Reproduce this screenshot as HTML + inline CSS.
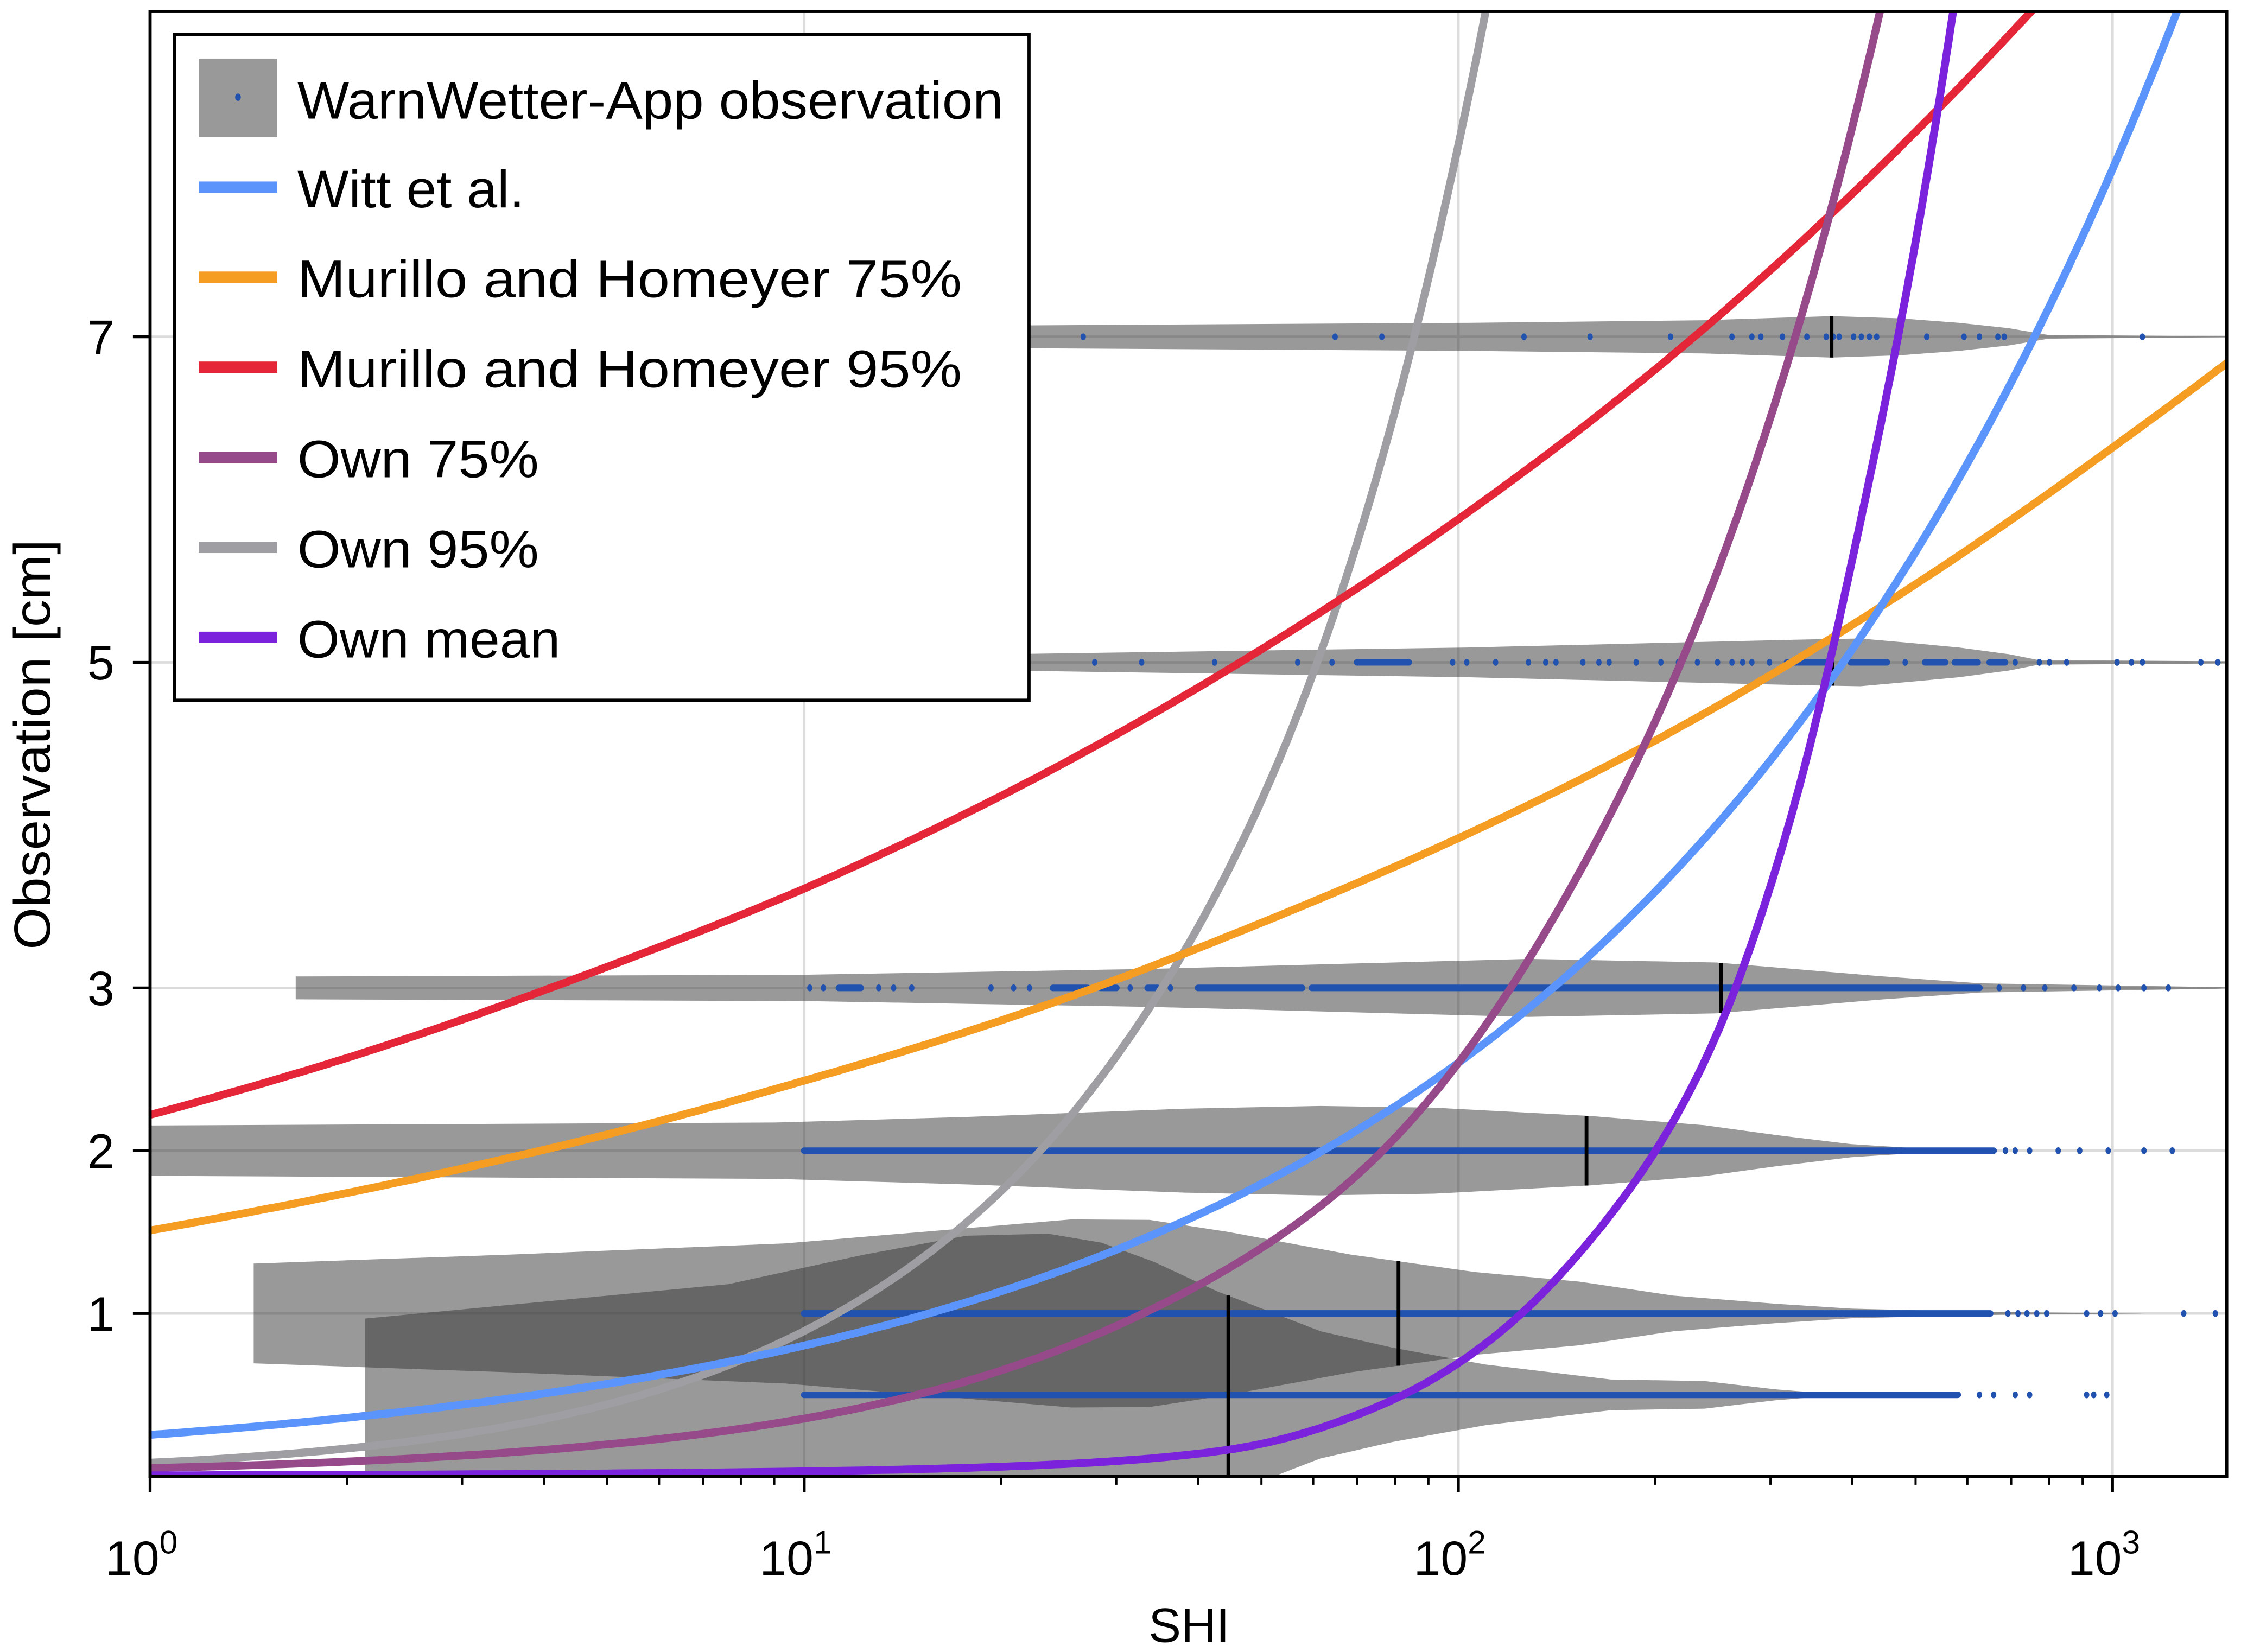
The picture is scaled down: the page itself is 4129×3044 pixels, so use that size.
<!DOCTYPE html>
<html><head><meta charset="utf-8"><style>
html,body{margin:0;padding:0;background:#fff;}
svg{display:block;}
text{font-family:"Liberation Sans",Arial,sans-serif;fill:#000;}
</style></head><body>
<svg id="chart" xmlns="http://www.w3.org/2000/svg" width="4129" height="3044" viewBox="0 0 1568 1156" preserveAspectRatio="none">
<defs><clipPath id="plotclip"><rect x="105" y="8" width="1453" height="1025"/></clipPath></defs>
<rect x="0" y="0" width="1568" height="1156" fill="#fff"/>
<g id="grid"></g>
<g id="plot" clip-path="url(#plotclip)">
<g id="violins"></g>
<g id="dots"></g>
<g id="medians"></g>
<g id="curves"></g>
</g>
<rect x="105" y="8" width="1453" height="1025" fill="none" stroke="#000" stroke-width="2.2"/>
<g id="axes"></g>
<text x="832" y="1149" font-size="34" text-anchor="middle">SHI</text>
<text transform="translate(35,521) rotate(-90)" font-size="36" text-anchor="middle" textLength="287" lengthAdjust="spacingAndGlyphs">Observation [cm]</text>
<g>
<rect x="122" y="24" width="598" height="466" fill="#fff" stroke="#000" stroke-width="2.2"/>
<g>
<rect x="139" y="41" width="55" height="55" fill="#999"/>
<ellipse cx="166.5" cy="68" rx="2" ry="2.6" fill="#2152b0"/>
<text x="208" y="83" font-size="37" textLength="494" lengthAdjust="spacingAndGlyphs">WarnWetter-App observation</text></g>
<g><rect x="139" y="127" width="55" height="8" fill="#5b95fb"/><text x="208" y="145" font-size="37" textLength="159" lengthAdjust="spacingAndGlyphs">Witt et al.</text></g>
<g><rect x="139" y="190" width="55" height="8" fill="#f59c22"/><text x="208" y="208" font-size="37" textLength="465" lengthAdjust="spacingAndGlyphs">Murillo and Homeyer  75%</text></g>
<g><rect x="139" y="253" width="55" height="8" fill="#e42638"/><text x="208" y="271" font-size="37" textLength="465" lengthAdjust="spacingAndGlyphs">Murillo and Homeyer  95%</text></g>
<g><rect x="139" y="316" width="55" height="8" fill="#964a8a"/><text x="208" y="334" font-size="37" textLength="169" lengthAdjust="spacingAndGlyphs">Own 75%</text></g>
<g><rect x="139" y="379" width="55" height="8" fill="#9e9ea3"/><text x="208" y="397" font-size="37" textLength="169" lengthAdjust="spacingAndGlyphs">Own 95%</text></g>
<g><rect x="139" y="442" width="55" height="8" fill="#7b22dd"/><text x="208" y="460" font-size="37" textLength="184" lengthAdjust="spacingAndGlyphs">Own mean</text></g>
</g>
</svg>
<script>
// ---- data ----
const yTicks = [1, 2, 3, 5, 7];
const xDecades = [0, 1, 2, 3];
const xTickLabels = ["0", "1", "2", "3"];

const wittShi = [1, 2, 5, 10, 20, 50, 100, 200, 400, 700, 1000, 1300];
const wittObs = [0.254, 0.359, 0.568, 0.803, 1.136, 1.796, 2.54, 3.592, 5.08, 6.72, 8.03, 9.16];
const mh75Shi = [1, 2, 5, 10, 20, 50, 100, 200, 500, 1000, 1600];
const mh75Obs = [1.51, 1.74, 2.10, 2.43, 2.80, 3.40, 3.92, 4.52, 5.48, 6.32, 6.93];
const mh95Shi = [1, 2, 5, 10, 20, 50, 100, 200, 500, 800];
const mh95Obs = [2.22, 2.57, 3.13, 3.61, 4.18, 5.08, 5.88, 6.80, 8.26, 9.12];
const ownMeanShi = [1, 10, 25, 44, 70, 145.5, 243, 325, 405, 526, 600];
const ownMeanObs = [0.005, 0.03, 0.075, 0.16, 0.377, 1.27, 2.63, 4.1, 5.73, 8.10, 9.6];
const own75Shi = [1, 10.2, 31.8, 70, 145.5, 258, 447, 500];
const own75Obs = [0.05, 0.36, 0.97, 1.85, 3.55, 5.73, 9.1, 10.0];
const own95Shi = [1, 9.53, 27.8, 60.7, 111, 130];
const own95Obs = [0.083, 0.85, 2.40, 4.99, 9.07, 10.6];

const violinCenters = [0.5, 1, 2, 3, 5, 7];
const violinShi = [
  [2.13, 7.66, 12.3, 17.7, 23.6, 28.5, 34.3, 42.7, 61.5, 79.4, 110, 171, 238, 305, 389],
  [1.44, 3.55, 9.35, 25.6, 33.7, 44.3, 68.5, 106, 153, 213, 305, 398, 631, 1122],
  [0.79, 9.02, 17.7, 38.2, 61.5, 91.8, 159, 238, 305, 398, 501, 617],
  [1.67, 10.0, 33.8, 128, 248, 441, 628, 1445, 1496],
  [20, 103, 346, 412, 491, 583, 695, 771, 1585],
  [22.1, 103, 237, 372, 474, 583, 695, 798, 1496]
];
const violinHalf = [
  [0.468, 0.68, 0.86, 0.978, 0.99, 0.935, 0.816, 0.638, 0.391, 0.289, 0.187, 0.094, 0.085, 0.034, 0],
  [0.306, 0.362, 0.430, 0.578, 0.575, 0.502, 0.362, 0.255, 0.196, 0.11, 0.06, 0.03, 0.01, 0],
  [0.153, 0.173, 0.207, 0.258, 0.275, 0.264, 0.213, 0.156, 0.097, 0.04, 0.015, 0],
  [0.07, 0.081, 0.117, 0.178, 0.156, 0.072, 0.028, 0.005, 0.003],
  [0.05, 0.091, 0.141, 0.147, 0.119, 0.091, 0.05, 0.014, 0.006],
  [0.07, 0.086, 0.102, 0.127, 0.113, 0.086, 0.053, 0.011, 0.003]
];
const medianShi = [44.5, 81, 157, 252, 373, 372];

const dots05 = [626, 658, 710, 747, 913, 936, 980];
const dense05 = [[10, 580]];
const dots1 = [692, 717, 740, 766, 793, 913, 959, 1009, 1285, 1436];
const dense1 = [[10, 650]];
const dots2 = [686, 710, 747, 826, 891, 985, 1117, 1234];
const dense2 = [[10, 658]];
const dots3 = [10.2, 10.7, 13.0, 13.7, 14.6, 19.3, 20.9, 22.1, 31.5, 36.3, 671, 731, 788, 873, 955, 1020, 1117, 1217];
const dense3 = [[11.3, 12.2], [24, 27.1], [28.4, 30], [33.5, 34.7], [40, 57.7], [59.7, 626]];
const dots5 = [27.8, 32.8, 42.4, 56.8, 64.1, 98, 103, 114, 128, 136, 141, 155, 164, 170, 187, 204, 217, 232, 249, 262, 272, 281, 299, 482, 710, 773, 801, 851, 1016, 1069, 1111, 1365, 1449];
const dense5 = [[70, 84], [318, 371], [398, 452], [517, 555], [574, 622], [649, 685]];
const dots7 = [26.7, 64.8, 76.4, 126, 159, 211, 262, 281, 290, 313, 341, 365, 374, 382, 402, 413, 425, 436, 520, 593, 626, 668, 683, 1111];

// ---- axes ----
const NS = "http://www.w3.org/2000/svg";
const PL = 105, PR = 1558, PT = 8, PB = 1033, DEC = 457.7, UNIT = 113.9;
function X(s) { return PL + Math.log10(s) * DEC; }
function Y(v) { return PB - v * UNIT; }
function mk(tag, attrs, parent) {
  const e = document.createElementNS(NS, tag);
  for (const k in attrs) e.setAttribute(k, attrs[k]);
  parent.appendChild(e);
  return e;
}
const grid = document.getElementById('grid');
const axes = document.getElementById('axes');
xDecades.forEach((d, i) => {
  const x = X(Math.pow(10, d));
  const g = mk('line', {x1: x, x2: x, y1: PT, y2: PB, stroke: '#dcdcdc', 'stroke-width': 1.8}, grid);
  
  
  const t = mk('line', {x1: x, x2: x, y1: PB, y2: PB + 11, stroke: '#000', 'stroke-width': 2}, axes);
  
  
  const lab = mk('text', {x: x - 6, y: 1102, 'font-size': 34, 'text-anchor': 'middle'}, axes);
  lab.textContent = '10';
  const sup = mk('tspan', {dy: -15, 'font-size': 23}, lab);
  sup.textContent = xTickLabels[i];
  
  
  for (let m = 2; m <= 9; m++) {
    const xm = X(m * Math.pow(10, d));
    if (xm > PR) break;
    const mt = mk('line', {x1: xm, x2: xm, y1: PB, y2: PB + 6, stroke: '#000', 'stroke-width': 1.5}, axes);
    
    
  }
});
yTicks.forEach(v => {
  const y = Y(v);
  const g = mk('line', {x1: PL, x2: PR, y1: y, y2: y, stroke: '#dcdcdc', 'stroke-width': 1.8}, grid);
  
  
  const t = mk('line', {x1: PL - 12, x2: PL, y1: y, y2: y, stroke: '#000', 'stroke-width': 2}, axes);
  
  
  const lab = mk('text', {x: 80, y: y + 12, 'font-size': 34, 'text-anchor': 'end'}, axes);
  lab.textContent = String(v);
  
  
});

// ---- violins ----
const vg = document.getElementById('violins');
function halfAt(i, s) {
  const xs = violinShi[i], hs = violinHalf[i];
  const l = Math.log10(s);
  for (let k = 0; k < xs.length - 1; k++) {
    const a = Math.log10(xs[k]), b = Math.log10(xs[k + 1]);
    if (l >= a && l <= b) return hs[k] + (hs[k + 1] - hs[k]) * (l - a) / (b - a);
  }
  return 0;
}
violinCenters.forEach((c, i) => {
  const xs = violinShi[i], hs = violinHalf[i];
  const top = xs.map((s, k) => X(s).toFixed(1) + ',' + Y(c + hs[k]).toFixed(1));
  const bot = xs.map((s, k) => X(s).toFixed(1) + ',' + Y(c - hs[k]).toFixed(1)).reverse();
  const p = mk('polygon', {points: top.concat(bot).join(' '), fill: '#333', 'fill-opacity': 0.5}, vg);
  
  
});

// ---- dots ----
const dg = document.getElementById('dots');
const dotRows = [[0.5, dots05, dense05], [1, dots1, dense1], [2, dots2, dense2], [3, dots3, dense3], [5, dots5, dense5], [7, dots7, []]];
dotRows.forEach(([c, pts, dens]) => {
  dens.forEach(([a, b]) => {
    const l = mk('line', {x1: X(a), x2: X(b), y1: Y(c), y2: Y(c), stroke: '#2152b0', 'stroke-width': 4.6, 'stroke-linecap': 'round'}, dg);
    
    
  });
  pts.forEach(s => {
    const e = mk('ellipse', {cx: X(s), cy: Y(c), rx: 1.9, ry: 2.4, fill: '#2152b0'}, dg);
    
    
  });
});

// ---- medians ----
const mg = document.getElementById('medians');
violinCenters.forEach((c, i) => {
  const h = halfAt(i, medianShi[i]);
  const l = mk('line', {x1: X(medianShi[i]), x2: X(medianShi[i]), y1: Y(c + h), y2: Y(c - h), stroke: '#000', 'stroke-width': 2.6}, mg);
  
  
});

// ---- curves (monotone cubic in log-log space) ----
const cg = document.getElementById('curves');
function monotonePath(xs, ys) {
  const lx = xs.map(s => Math.log10(s));
  const ly = ys.map(v => Math.log(v));
  const n = lx.length;
  const d = [], m = new Array(n);
  for (let i = 0; i < n - 1; i++) d.push((ly[i + 1] - ly[i]) / (lx[i + 1] - lx[i]));
  m[0] = d[0]; m[n - 1] = d[n - 2];
  for (let i = 1; i < n - 1; i++) m[i] = (d[i - 1] * d[i] <= 0) ? 0 : 2 / (1 / d[i - 1] + 1 / d[i]);
  let out = '';
  for (let i = 0; i < n - 1; i++) {
    const h = lx[i + 1] - lx[i];
    for (let k = 0; k <= 30; k++) {
      if (i > 0 && k === 0) continue;
      const t = k / 30, t2 = t * t, t3 = t2 * t;
      const v = (2 * t3 - 3 * t2 + 1) * ly[i] + (t3 - 2 * t2 + t) * h * m[i] + (-2 * t3 + 3 * t2) * ly[i + 1] + (t3 - t2) * h * m[i + 1];
      const px = PL + (lx[i] + t * h) * DEC, py = Y(Math.exp(v));
      out += (out ? ' L' : 'M') + px.toFixed(1) + ',' + py.toFixed(1);
    }
  }
  return out;
}
const curveDefs = [
  ['own95-curve', own95Shi, own95Obs, '#9e9ea3'],
  ['mh95-curve', mh95Shi, mh95Obs, '#e42638'],
  ['mh75-curve', mh75Shi, mh75Obs, '#f59c22'],
  ['witt-curve', wittShi, wittObs, '#5b95fb'],
  ['own75-curve', own75Shi, own75Obs, '#964a8a'],
  ['own-mean-curve', ownMeanShi, ownMeanObs, '#7b22dd']
];
curveDefs.forEach(([name, xs, ys, col]) => {
  const p = mk('path', {d: monotonePath(xs, ys), fill: 'none', stroke: col, 'stroke-width': 5.5, 'stroke-linejoin': 'round'}, cg);
  
  
});
</script>
</body></html>
